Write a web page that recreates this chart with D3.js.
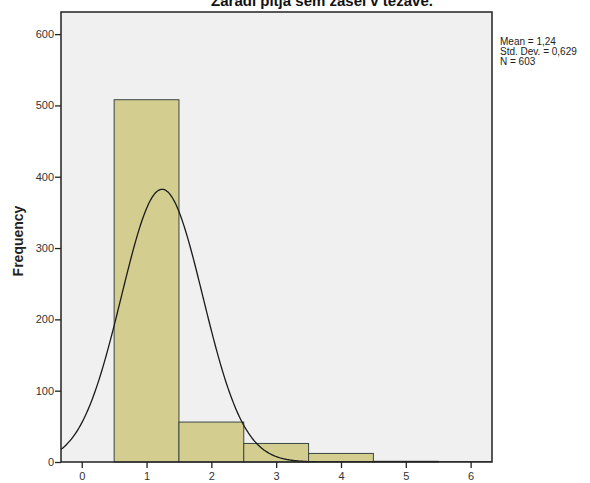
<!DOCTYPE html>
<html>
<head>
<meta charset="utf-8">
<script src="https://cdn.jsdelivr.net/npm/d3@7"></script>
<style>
  body { margin: 0; background: #fff; }
  svg { font-family: Arial, "Liberation Sans", sans-serif; }
</style>
</head>
<body>
<div id="chart"></div>
<script>
// histogram values
var binCentres = [1, 2, 3, 4, 5];
var counts = [508, 56, 26, 12, 1];
var xTicks = [0, 1, 2, 3, 4, 5, 6];
var yTicks = [0, 100, 200, 300, 400, 500, 600];
var statLines = ["Mean = 1,24", "Std. Dev. = 0,629", "N = 603"];
var mean = 1.24, sd = 0.629, n = 603;

var width = 590, height = 483;
var plot = {left: 61, top: 12, right: 492, bottom: 462};

var svg = d3.select('#chart')
  .append('svg')
  .attr('width', width)
  .attr('height', height);

var x = d3.scaleLinear().domain([-0.32, 6.33]).range([plot.left, plot.right]);
var y = d3.scaleLinear().domain([0, 631]).range([plot.bottom, plot.top]);

// plot background
svg.append('rect')
  .attr('x', plot.left)
  .attr('y', plot.top)
  .attr('width', plot.right - plot.left)
  .attr('height', plot.bottom - plot.top)
  .attr('fill', '#f0f0f0');

svg.append('clipPath').attr('id', 'clip')
  .append('rect')
  .attr('x', plot.left)
  .attr('y', plot.top)
  .attr('width', plot.right - plot.left)
  .attr('height', plot.bottom - plot.top);

var data = binCentres.map(function (c, i) { return {c: c, v: counts[i]}; });

svg.selectAll('.bar')
  .data(data)
  .enter().append('rect')
  .attr('class', 'bar')
  .attr('x', function (d) { return x(d.c - 0.5); })
  .attr('width', function (d) { return x(d.c + 0.5) - x(d.c - 0.5); })
  .attr('y', function (d) { return y(d.v); })
  .attr('height', function (d) { return plot.bottom - y(d.v); })
  .attr('fill', '#d3ce8f')
  .attr('stroke', '#3a4642')
  .attr('stroke-width', 1);

// fitted normal curve from the stats shown in the legend
var pts = d3.range(0, 401).map(function (i) {
  var xv = -0.32 + i * (6.65 / 400);
  var z = (xv - mean) / sd;
  return [xv, n / (sd * Math.sqrt(2 * Math.PI)) * Math.exp(-0.5 * z * z)];
});
var line = d3.line()
  .x(function (d) { return x(d[0]); })
  .y(function (d) { return y(d[1]); })
  .curve(d3.curveBasis);

svg.append('path')
  .datum(pts)
  .attr('clip-path', 'url(#clip)')
  .attr('d', line)
  .attr('fill', 'none')
  .attr('stroke', '#1a1a1a')
  .attr('stroke-width', 1.3);

// frame
svg.append('rect')
  .attr('x', plot.left)
  .attr('y', plot.top)
  .attr('width', plot.right - plot.left)
  .attr('height', plot.bottom - plot.top)
  .attr('fill', 'none')
  .attr('stroke', '#222')
  .attr('stroke-width', 1.5);

// axes
var xAxis = svg.append('g')
  .attr('transform', 'translate(0,' + plot.bottom + ')')
  .call(d3.axisBottom(x).tickValues(xTicks).tickFormat(d3.format('d'))
    .tickSize(6).tickPadding(4));
var yAxis = svg.append('g')
  .attr('transform', 'translate(' + plot.left + ',0)')
  .call(d3.axisLeft(y).tickValues(yTicks).tickFormat(d3.format('d'))
    .tickSize(6).tickPadding(1));

[xAxis, yAxis].forEach(function (g) {
  g.select('.domain').remove();
  g.selectAll('.tick line').attr('stroke', '#222').attr('stroke-width', 1.3);
  g.selectAll('.tick text')
    .attr('fill', '#333')
    .style('font-size', '11px')
    .style('font-family', 'Arial, "Liberation Sans", sans-serif');
});

svg.append('text')
  .attr('transform', 'translate(23,' + ((plot.top + plot.bottom) / 2 + 4) + ') rotate(-90)')
  .attr('text-anchor', 'middle')
  .style('font-size', '14px')
  .style('font-weight', 'bold')
  .attr('fill', '#222')
  .text('Frequency');

// title, clipped at the top of the picture as in the original
svg.append('text')
  .attr('x', 322)
  .attr('y', 6)
  .attr('text-anchor', 'middle')
  .style('font-size', '15px')
  .style('font-weight', 'bold')
  .attr('fill', '#111')
  .text('Zaradi pitja sem zašel v težave.');

svg.selectAll('.stat')
  .data(statLines)
  .enter().append('text')
  .attr('class', 'stat')
  .attr('x', 500)
  .attr('y', function (d, i) { return 45 + i * 10; })
  .style('font-size', '10px')
  .attr('fill', '#222')
  .text(function (d) { return d; });
</script>
</body>
</html>
